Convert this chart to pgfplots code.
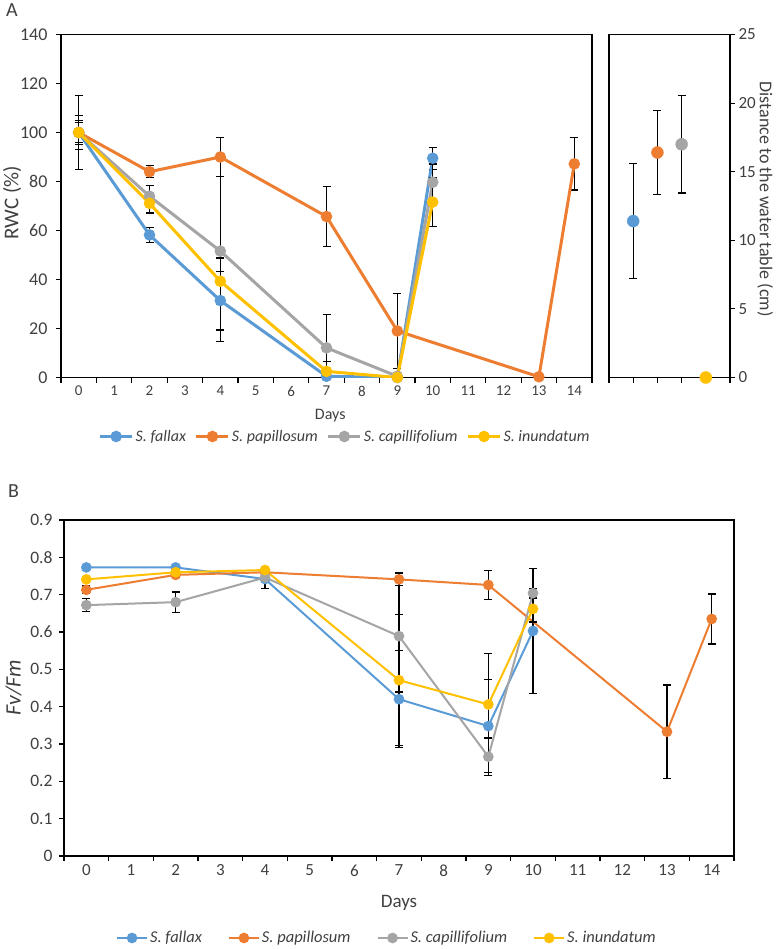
\documentclass[border=0pt]{standalone}
\usepackage{fontspec}
\setmainfont{Carlito}
\usepackage{pgfplots}
\pgfplotsset{compat=1.18}
\usepackage{pgfplotstable}
\definecolor{cfal}{HTML}{5B9BD5}
\definecolor{cpap}{HTML}{ED7D31}
\definecolor{ccap}{HTML}{A5A5A5}
\definecolor{cinu}{HTML}{FFC000}
\definecolor{txt}{HTML}{404040}

% Panel A: RWC (%)
\pgfplotstableread{
x y
0 100
2 58.2
4 31.4
7 0.5
9 0
10 89.5
}\Afal
\pgfplotstableread{
x y e
0 100 4
2 58.2 3
4 31.4 12
10 89.5 4.5
}\Afale
\pgfplotstableread{
x y
0 100
2 84
4 90
7 65.7
9 19
13 0.3
14 87.2
}\Apap
\pgfplotstableread{
x y e
0 100 15
2 84 2.5
4 90 8
7 65.7 12.3
9 19 15.3
14 87.2 10.7
}\Apape
\pgfplotstableread{
x y
0 100
2 74
4 51.6
7 12.1
9 0.5
10 79.7
}\Acap
\pgfplotstableread{
x y e
0 100 7
2 74 4.5
4 51.6 37
7 12.1 13.6
10 79.7 7.5
}\Acape
\pgfplotstableread{
x y
0 100
2 71.1
4 39.3
7 2.5
9 0
10 71.6
}\Ainu
\pgfplotstableread{
x y e
0 100 5
2 71.1 4
4 39.3 9.5
7 2.5 4
10 71.6 10
}\Ainue

% Panel B: Fv/Fm
\pgfplotstableread{
x y
0 0.773
2 0.773
4 0.742
7 0.420
9 0.348
10 0.603
}\Bfal
\pgfplotstableread{
x y e
7 0.420 0.13
9 0.348 0.125
10 0.603 0.167
}\Bfale
\pgfplotstableread{
x y
0 0.713
2 0.753
4 0.760
7 0.741
9 0.726
13 0.333
14 0.635
}\Bpap
\pgfplotstableread{
x y e
0 0.713 0.01
7 0.741 0.017
9 0.726 0.038
13 0.333 0.125
14 0.635 0.067
}\Bpape
\pgfplotstableread{
x y
0 0.672
2 0.680
4 0.746
7 0.589
9 0.266
10 0.704
}\Bcap
\pgfplotstableread{
x y e
0 0.672 0.017
2 0.680 0.027
4 0.746 0.03
7 0.589 0.15
9 0.266 0.05
10 0.704 0.013
}\Bcape
\pgfplotstableread{
x y
0 0.741
2 0.760
4 0.766
7 0.471
9 0.406
10 0.662
}\Binu
\pgfplotstableread{
x y e
7 0.471 0.175
9 0.406 0.137
10 0.662 0.035
}\Binue

\pgfplotsset{
  errs/.style={only marks, mark=*, mark size=0pt, mark options={draw=none, fill=none}, forget plot,
    error bars/y dir=both, error bars/y explicit,
    error bars/error mark=-,
    error bars/error bar style={draw=black, line width=1.3pt},
    error bars/error mark options={draw=black, line width=1.3pt, mark size=4pt, rotate=90}},
  common/.style={
    scale only axis,
    xmin=-0.5, xmax=14.5,
    xtick={-0.5,0.5,...,14.5},
    xticklabels={0,1,2,3,4,5,6,7,8,9,10,11,12,13,14,{}},
    tick align=outside, tick pos=left, major tick length=5pt,
    axis line style={line width=1.1pt, black},
    tick style={line width=1.1pt, black},
    /pgf/number format/assume math mode=true,
    ticklabel style={text=txt},
    label style={text=txt},
    legend style={draw=none, fill=none, text=txt},
  },
}

\begin{document}
\begin{tikzpicture}
\useasboundingbox (0,0) rectangle (782pt,-949pt);
\node[anchor=north west, inner sep=0pt, font=\fontsize{20}{20}\selectfont, text=txt] at (6pt,-3pt) {A};
\node[anchor=north west, inner sep=0pt, font=\fontsize{20}{20}\selectfont, text=txt] at (8pt,-484pt) {B};

\begin{axis}[common,
  at={(61pt,-377.5pt)}, anchor=south west,
  width=531pt, height=343pt,
  ymin=0, ymax=140, ytick={0,20,...,140},
  xticklabel style={xshift=17.7pt, font=\fontsize{15}{15}\selectfont},
  yticklabel style={font=\fontsize{18}{18}\selectfont, xshift=-5pt},
  xlabel={Days}, ylabel={RWC (\%)},
  xlabel style={font=\fontsize{16}{16}\selectfont, at={(axis description cs:0.507,-0.111)}, anchor=center},
  ylabel style={font=\fontsize{21}{21}\selectfont, at={(axis description cs:-0.092,0.51)}, anchor=center},
  legend columns=4,
  legend style={at={(axis description cs:0.535,-0.172)}, anchor=center, font=\itshape\fontsize{16}{16}\selectfont,
    /tikz/every odd column/.append style={column sep=0pt},
    /tikz/every even column/.append style={column sep=7pt}},
  legend image code/.code={\draw[mark repeat=2,mark phase=2] plot coordinates {(0pt,0pt) (16pt,0pt) (32pt,0pt)};},
  every axis plot/.append style={line width=3pt, mark=*, mark size=4.2pt},
]
\addplot[errs] table[x=x,y=y,y error=e] {\Afale};
\addplot[cfal, mark options={fill=cfal, draw=cfal}] table[x=x,y=y] {\Afal};
\addlegendentry{S. fallax}
\addplot[errs] table[x=x,y=y,y error=e] {\Apape};
\addplot[cpap, mark options={fill=cpap, draw=cpap}] table[x=x,y=y] {\Apap};
\addlegendentry{S. papillosum}
\addplot[errs] table[x=x,y=y,y error=e] {\Acape};
\addplot[ccap, mark options={fill=ccap, draw=ccap}] table[x=x,y=y] {\Acap};
\addlegendentry{S. capillifolium}
\addplot[errs] table[x=x,y=y,y error=e] {\Ainue};
\addplot[cinu, mark options={fill=cinu, draw=cinu}] table[x=x,y=y] {\Ainu};
\addlegendentry{S. inundatum}
\end{axis}

\begin{axis}[
  scale only axis,
  at={(609pt,-377.5pt)}, anchor=south west,
  width=121pt, height=343pt,
  xmin=0, xmax=5, xtick={0,...,5}, xticklabels={},
  ymin=0, ymax=25, ytick={0,5,...,25},
  tick align=outside, xtick pos=left, ytick pos=right, yticklabel pos=right,
  major tick length=5pt,
  axis line style={line width=1.1pt, black},
  tick style={line width=1.1pt, black},
  /pgf/number format/assume math mode=true,
  ticklabel style={text=txt},
  yticklabel style={font=\fontsize{17}{17}\selectfont},
  ylabel={Distance to the water table (cm)},
  ylabel style={font=\fontsize{18}{18}\selectfont, text=txt, at={(axis description cs:1.29,0.52)}, anchor=center, rotate=180},
]
\addplot[errs] table[x=x,y=y,y error=e] {
x y e
1 11.4 4.2
2 16.4 3.05
3 17.0 3.55
};
\addplot[only marks, mark=*, mark size=6pt, cfal, mark options={fill=cfal, draw=cfal}] table {
x y
1 11.4
};
\addplot[only marks, mark=*, mark size=6pt, cpap, mark options={fill=cpap, draw=cpap}] table {
x y
2 16.4
};
\addplot[only marks, mark=*, mark size=6pt, ccap, mark options={fill=ccap, draw=ccap}] table {
x y
3 17.0
};
\addplot[only marks, mark=*, mark size=6pt, cinu, mark options={fill=cinu, draw=cinu}, clip=false] table {
x y
4 0
};
\end{axis}

\begin{axis}[common,
  at={(64pt,-856pt)}, anchor=south west,
  width=670pt, height=336pt,
  ymin=0, ymax=0.9, ytick={0,0.1,0.2,0.3,0.4,0.5,0.6,0.7,0.8,0.9},
  yticklabel style={font=\fontsize{17.5}{17.5}\selectfont, xshift=-3pt, /pgf/number format/.cd, fixed, precision=1},
  xticklabel style={xshift=22.33pt, font=\fontsize{17}{17}\selectfont},
  xlabel={Days}, ylabel={\textit{Fv/Fm}},
  xlabel style={font=\fontsize{19}{19}\selectfont, at={(axis description cs:0.5,-0.14)}, anchor=center},
  ylabel style={font=\fontsize{22}{22}\selectfont, at={(axis description cs:-0.0754,0.5)}, anchor=center},
  legend columns=4,
  legend style={at={(axis description cs:0.482,-0.244)}, anchor=center, font=\itshape\fontsize{16.5}{16.5}\selectfont,
    /tikz/every odd column/.append style={column sep=0pt},
    /tikz/every even column/.append style={column sep=24pt}},
  legend image code/.code={\draw[mark repeat=2,mark phase=2] plot coordinates {(0pt,0pt) (15pt,0pt) (30pt,0pt)};},
  every axis plot/.append style={line width=2pt, mark=*, mark size=4.3pt},
]
\addplot[errs] table[x=x,y=y,y error=e] {\Bfale};
\addplot[cfal, mark options={fill=cfal, draw=cfal}] table[x=x,y=y] {\Bfal};
\addlegendentry{S. fallax}
\addplot[errs] table[x=x,y=y,y error=e] {\Bpape};
\addplot[cpap, mark options={fill=cpap, draw=cpap}] table[x=x,y=y] {\Bpap};
\addlegendentry{S. papillosum}
\addplot[errs] table[x=x,y=y,y error=e] {\Bcape};
\addplot[ccap, mark options={fill=ccap, draw=ccap}] table[x=x,y=y] {\Bcap};
\addlegendentry{S. capillifolium}
\addplot[errs] table[x=x,y=y,y error=e] {\Binue};
\addplot[cinu, mark options={fill=cinu, draw=cinu}] table[x=x,y=y] {\Binu};
\addlegendentry{S. inundatum}
\end{axis}
\end{tikzpicture}
\end{document}
